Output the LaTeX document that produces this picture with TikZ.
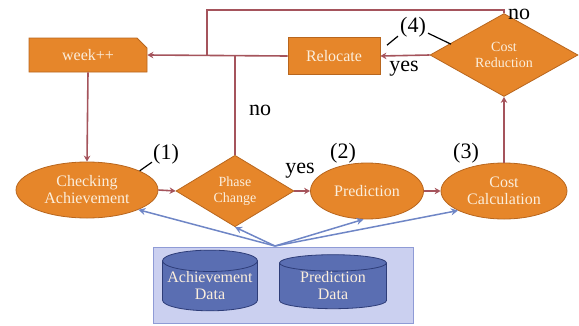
\documentclass[tikz,border=0pt]{standalone}
\usepackage{fontspec}
\setmainfont{Liberation Serif}
\usetikzlibrary{shapes.geometric,shapes.misc,arrows.meta}
\definecolor{orfill}{HTML}{E6862A}
\definecolor{ordraw}{HTML}{B8661E}
\definecolor{ortext}{HTML}{FBEEDC}
\definecolor{conn}{HTML}{A5545C}
\definecolor{blueln}{HTML}{6F86C6}
\definecolor{dbfill}{HTML}{CBD0F0}
\definecolor{dbdraw}{HTML}{8F9BD6}
\definecolor{cylfill}{HTML}{5A6EB2}
\definecolor{cyldraw}{HTML}{2E3D78}
\tikzset{
  base/.style={fill=orfill,draw=ordraw,line width=0.8pt,text=ortext,align=center,inner sep=0pt,font=\fontsize{16}{17}\selectfont},
  rbox/.style={base,rectangle,minimum width=92,minimum height=37},
  chambox/.style={base,chamfered rectangle,chamfered rectangle corners=north east,chamfered rectangle xsep=5pt,chamfered rectangle ysep=5pt,minimum width=118,minimum height=34},
  ell/.style={base,ellipse,minimum height=56},
  dia/.style={base,diamond,font=\fontsize{14}{16}\selectfont},
  conn/.style={draw=conn,line width=1.6pt},
  carrow/.style={conn,-{Stealth[length=6pt,width=6.5pt]}},
  barrow/.style={draw=blueln,line width=1.5pt,-{Stealth[length=7pt,width=7pt]}},
  lbl/.style={text=black,inner sep=0pt,font=\fontsize{22}{24}\selectfont},
  leader/.style={draw=black,line width=1.2pt},
  cyl/.style={cylinder,shape border rotate=90,aspect=0.25,draw=cyldraw,fill=cylfill,line width=0.8pt,text=ortext,align=center,inner sep=0pt,font=\fontsize{16}{17}\selectfont}
}
\begin{document}
\begin{tikzpicture}[x=1pt,y=-1pt]
\useasboundingbox (0,0) rectangle (579,325);
% nodes
\node[chambox] (week) at (88,55) {week++};
\node[rbox] (reloc) at (334,56) {Relocate};
\node[dia,minimum width=148,minimum height=60] (cr) at (504,55) {Cost\\Reduction};
\node[ell,minimum width=142] (chk) at (87,190) {Checking\\Achievement};
\node[dia,minimum width=118,minimum height=58] (pc) at (235,191) {Phase\\Change};
\node[ell,minimum width=113] (pred) at (367,191) {Prediction};
\node[ell,minimum width=126] (cc) at (504,191) {Cost\\Calculation};
\node[draw=dbdraw,fill=dbfill,line width=0.8pt,minimum width=260,minimum height=76,inner sep=0pt] (data) at (283,285) {};
\node[cyl,minimum width=95,minimum height=54] (ad) at (210,286) {Achievement\\Data};
\node[cyl,minimum width=107,minimum height=54] (pd) at (333,286) {Prediction\\Data};
% coordinates
\coordinate (top) at (207,10);
\coordinate (jn) at (207,56);
\coordinate (jn2) at (235,56);
\coordinate (hub) at (275,246);
% brown connectors
\draw[carrow] (week.south) -- (chk.north);
\draw[carrow] (chk.east) -- (pc.west);
\draw[carrow] (pc.east) -- (pred.west);
\draw[carrow] (pred.east) -- (cc.west);
\draw[carrow] (cc.north) -- (cr.south);
\draw[carrow] (cr.west) -- (reloc.east);
\draw[carrow] (reloc.west) -- (week.east);
\draw[conn] (cr.north) |- (top) -- (jn);
\draw[conn] (pc.north) -- (jn2);
% blue connectors
\draw[barrow] (hub) -- (chk.-21);
\draw[barrow] (hub) -- (pc.south);
\draw[barrow] (hub) -- (pred.-97);
\draw[barrow] (hub) -- (cc.-157);
% labels
\node[lbl] (l1) at (166,154) {(1)};
\node[lbl] (l2) at (343,153) {(2)};
\node[lbl] (l3) at (466,153) {(3)};
\node[lbl] (l4) at (413,27) {(4)};
\node[lbl] (no1) at (519,14) {no};
\node[lbl] (no2) at (260,110) {no};
\node[lbl] (yes1) at (404,69) {yes};
\node[lbl] (yes2) at (300,171) {yes};
\draw[leader] (chk.20) -- ([shift={(-1,-2)}]l1.south west);
\draw[leader] ([shift={(-2,-1)}]l4.south west) -- ++(-11,9);
\draw[leader] ([shift={(2,-4)}]l4.south east) -- ++(23,11);
\end{tikzpicture}
\end{document}
